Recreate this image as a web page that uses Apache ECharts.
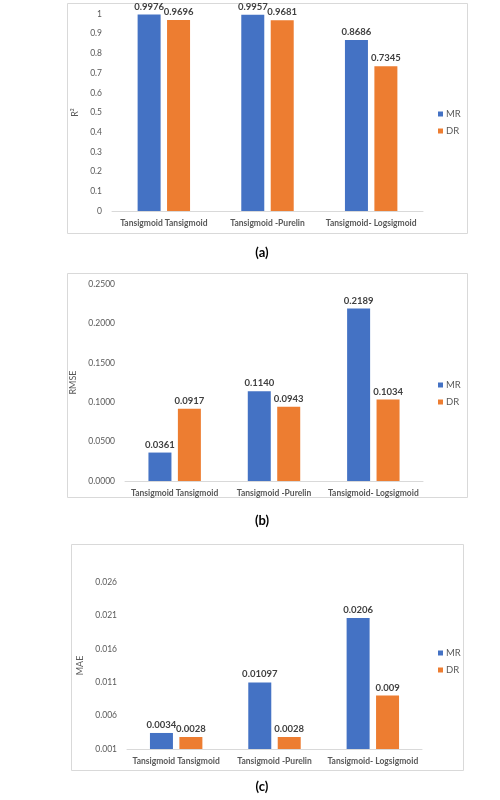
<!DOCTYPE html>
<html>
<head>
<meta charset="utf-8">
<script src="https://cdn.jsdelivr.net/npm/echarts@6/dist/echarts.min.js"></script>
<style>
html,body{margin:0;padding:0;background:#fff;}
#chart{width:500px;height:800px;}
</style>
</head>
<body>
<div id="chart"></div>
<script>
const categories = ['Tansigmoid Tansigmoid', 'Tansigmoid -Purelin', 'Tansigmoid- Logsigmoid'];
const seriesNames = ['MR', 'DR'];
const r2MR = [0.9976, 0.9957, 0.8686];
const r2DR = [0.9696, 0.9681, 0.7345];
const rmseMR = [0.0361, 0.1140, 0.2189];
const rmseDR = [0.0917, 0.0943, 0.1034];
const maeMR = [0.0034, 0.01097, 0.0206];
const maeDR = [0.0028, 0.0028, 0.009];
const r2Ticks = [0, 0.1, 0.2, 0.3, 0.4, 0.5, 0.6, 0.7, 0.8, 0.9, 1];
const rmseTicks = [0, 0.05, 0.1, 0.15, 0.2, 0.25];
const maeTicks = [0.001, 0.006, 0.011, 0.016, 0.021, 0.026];
const maeLabelText = ['0.0034', '0.01097', '0.0206'];
const maeDRLabelText = ['0.0028', '0.0028', '0.009'];
const captions = ['(a)', '(b)', '(c)'];

const FONT = 'Lato, "Open Sans", sans-serif';
const BLUE = '#4472C4', ORANGE = '#ED7D31';
const GRAY = '#595959';

const grids = [
  {left: 112, right: 77, top: 14, bottom: 589},
  {left: 125, right: 77, top: 284, bottom: 319},
  {left: 127, right: 78, top: 582, bottom: 51}
];

function xAx(i){
  return {
    type: 'category', gridIndex: i, data: categories,
    axisLine: {lineStyle: {color: '#d9d9d9'}},
    axisTick: {show: false},
    axisLabel: {color: GRAY, fontFamily: FONT, fontSize: 8.5, fontWeight: 'bold', margin: 8, interval: 0}
  };
}
function yAx(i, name, ticks, fmt, gap){
  return {
    type: 'value', gridIndex: i, name: name, nameLocation: 'middle', nameGap: gap,
    nameTextStyle: {color: GRAY, fontFamily: FONT, fontSize: 9},
    min: ticks[0], max: ticks[ticks.length - 1],
    interval: ticks[1] - ticks[0],
    axisLine: {show: false}, axisTick: {show: false}, splitLine: {show: false},
    axisLabel: {color: GRAY, fontFamily: FONT, fontSize: 8.5, margin: 10,
      customValues: ticks, formatter: fmt}
  };
}
function bar(i, name, data, color, fmt){
  return {
    type: 'bar', name: name, xAxisIndex: i, yAxisIndex: i, data: data,
    barWidth: 23, barGap: '28%',
    itemStyle: {color: color},
    label: {show: true, position: 'top', distance: 3, color: '#404040',
      fontFamily: FONT, fontSize: 9.5, fontWeight: 'bold', formatter: fmt}
  };
}
function legend(top){
  return {
    data: seriesNames, orient: 'vertical', left: 433, top: top,
    itemWidth: 5, itemHeight: 5, itemGap: 7, icon: 'rect',
    textStyle: {color: GRAY, fontFamily: FONT, fontSize: 9.5, padding: [0,0,0,-2]}
  };
}

const chart = echarts.init(document.getElementById('chart'), null, {renderer: 'canvas'});
chart.setOption({
  animation: false,
  backgroundColor: '#fff',
  grid: grids,
  xAxis: [xAx(0), xAx(1), xAx(2)],
  yAxis: [
    yAx(0, 'R²', r2Ticks, v => String(+v.toFixed(1)), 25),
    yAx(1, 'RMSE', rmseTicks, v => v.toFixed(4), 40),
    yAx(2, 'MAE', maeTicks, v => v.toFixed(3), 35)
  ],
  legend: [legend(104), legend(375), legend(643)],
  series: [
    bar(0, 'MR', r2MR, BLUE, p => p.value.toFixed(4)),
    bar(0, 'DR', r2DR, ORANGE, p => p.value.toFixed(4)),
    bar(1, 'MR', rmseMR, BLUE, p => p.value.toFixed(4)),
    bar(1, 'DR', rmseDR, ORANGE, p => p.value.toFixed(4)),
    bar(2, 'MR', maeMR, BLUE, p => maeLabelText[p.dataIndex]),
    bar(2, 'DR', maeDR, ORANGE, p => maeDRLabelText[p.dataIndex])
  ],
  graphic: [
    {type: 'rect', shape: {x: 67.5, y: 3.5, width: 400, height: 230}, style: {fill: 'none', stroke: '#d9d9d9', lineWidth: 1}, silent: true, z: -1},
    {type: 'rect', shape: {x: 67.5, y: 273.5, width: 400, height: 224}, style: {fill: 'none', stroke: '#d9d9d9', lineWidth: 1}, silent: true, z: -1},
    {type: 'rect', shape: {x: 71.5, y: 544.5, width: 392, height: 226}, style: {fill: 'none', stroke: '#d9d9d9', lineWidth: 1}, silent: true, z: -1},
    {type: 'text', x: 262, y: 253, style: {text: captions[0], fill: '#000', font: 'bold 13px ' + FONT, align: 'center', verticalAlign: 'middle'}},
    {type: 'text', x: 262, y: 521, style: {text: captions[1], fill: '#000', font: 'bold 13px ' + FONT, align: 'center', verticalAlign: 'middle'}},
    {type: 'text', x: 262, y: 787, style: {text: captions[2], fill: '#000', font: 'bold 13px ' + FONT, align: 'center', verticalAlign: 'middle'}}
  ]
});
</script>
</body>
</html>
